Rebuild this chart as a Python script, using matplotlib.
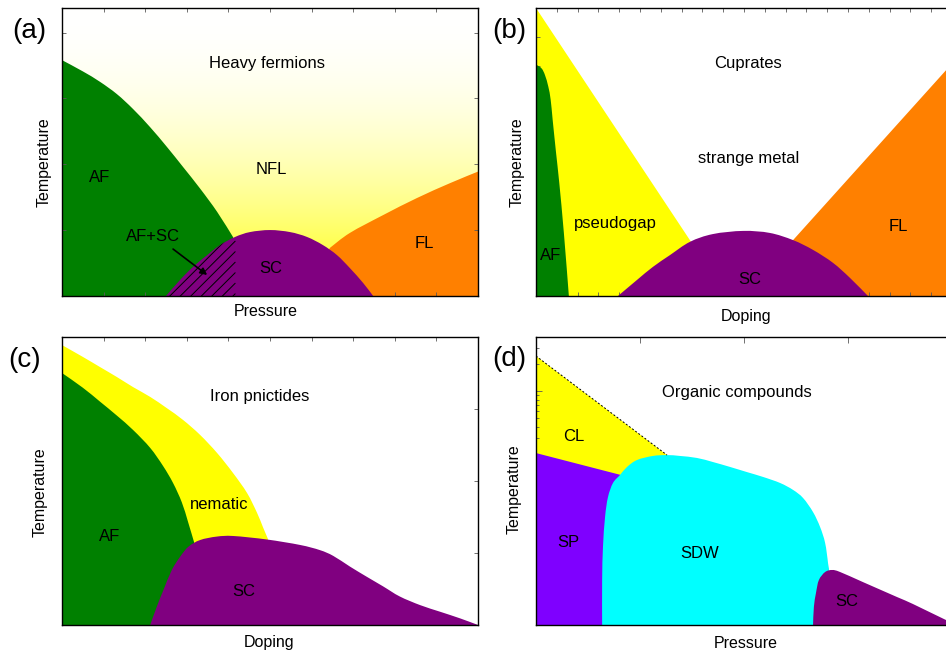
import numpy as np
import matplotlib
matplotlib.use("Agg")
import matplotlib.pyplot as plt
from matplotlib.path import Path
from matplotlib.patches import PathPatch
from matplotlib.ticker import MultipleLocator, FixedLocator, LogLocator, NullFormatter

plt.rcParams["font.family"] = ["Liberation Sans", "DejaVu Sans"]

W, H = 946, 652
FS = 12

GREEN = "#008000"
YELLOW = "#ffff00"
PURPLE = "#800080"
ORANGE = "#ff8000"
VIOLET = "#7f00ff"
CYAN = "#00ffff"

# ── (a) heavy fermions: phase boundaries in scaled units ─────────────────────
HF_AF_X = [0, 0.05, 0.091, 0.132, 0.171, 0.212, 0.252, 0.291, 0.332, 0.373, 0.411]
HF_AF_Y = [0.819, 0.78, 0.744, 0.701, 0.649, 0.586, 0.518, 0.448, 0.373, 0.292, 0.205]
HF_SC_X = [0.25, 0.284, 0.315, 0.349, 0.38, 0.416, 0.452, 0.5, 0.548, 0.589, 0.627, 0.661, 0.692, 0.724, 0.748]
HF_SC_Y = [0.0, 0.056, 0.101, 0.142, 0.177, 0.205, 0.222, 0.229, 0.222, 0.205, 0.177, 0.142, 0.097, 0.045, 0.0]
HF_FL_X = [1.0, 0.933, 0.853, 0.772, 0.692, 0.644]
HF_FL_Y = [0.432, 0.392, 0.34, 0.281, 0.219, 0.167]
HF_MIXED_EDGE = 0.416   # AF+SC coexistence ends here

# ── (b) cuprates ─────────────────────────────────────────────────────────────
CU_AF_X = [0.0, 0.0016, 0.0136, 0.0216, 0.0296, 0.0353, 0.0401, 0.048, 0.056, 0.067, 0.079]
CU_AF_Y = [0.80, 0.802, 0.79, 0.767, 0.727, 0.681, 0.611, 0.50, 0.392, 0.219, 0.0]
CU_PG_X = [0.0, 0.459]
CU_PG_Y = [1.0, 0.0]
CU_SC_X = [0.197, 0.243, 0.281, 0.322, 0.37, 0.425, 0.498, 0.562, 0.618, 0.666, 0.714, 0.755, 0.798]
CU_SC_Y = [0.0, 0.056, 0.101, 0.142, 0.188, 0.215, 0.226, 0.219, 0.194, 0.16, 0.115, 0.0625, 0.0]
CU_FL_X = [0.497, 1.0]
CU_FL_Y = [0.0, 0.807]

# ── (c) iron pnictides ───────────────────────────────────────────────────────
FE_NEM_X = [0, 0.05, 0.091, 0.132, 0.171, 0.212, 0.252, 0.291, 0.332, 0.373, 0.411,
            0.445, 0.469, 0.483, 0.495]
FE_NEM_Y = [0.972, 0.931, 0.896, 0.861, 0.826, 0.792, 0.753, 0.712, 0.66, 0.597, 0.528,
            0.458, 0.389, 0.34, 0.299]
FE_AF_X = [0, 0.05, 0.091, 0.132, 0.171, 0.212, 0.243, 0.267, 0.288, 0.303, 0.318]
FE_AF_Y = [0.875, 0.824, 0.776, 0.727, 0.677, 0.615, 0.552, 0.493, 0.426, 0.358, 0.285]
FE_SC_X = [0.212, 0.228, 0.244, 0.264, 0.284, 0.304, 0.332, 0.372, 0.412, 0.492, 0.572, 0.62,
           0.652, 0.692, 0.732, 0.772, 0.812, 0.861, 0.909, 0.957, 1.0]
FE_SC_Y = [0.0, 0.064, 0.122, 0.191, 0.237, 0.272, 0.295, 0.307, 0.309, 0.297, 0.278, 0.26,
           0.24, 0.203, 0.168, 0.134, 0.099, 0.069, 0.046, 0.023, 0.0]

# ── (d) organic compounds ────────────────────────────────────────────────────
OR_CL_X = [0.0, 0.315]
OR_CL_Y = [0.934, 0.59]
OR_SP_X = [0.0, 0.26]
OR_SP_Y = [0.597, 0.50]
OR_SDW_X = [0.159, 0.159, 0.161, 0.166, 0.173, 0.185, 0.202, 0.219, 0.243, 0.281, 0.315, 0.346,
            0.387, 0.425, 0.466, 0.507, 0.546, 0.587, 0.618, 0.642, 0.666, 0.683, 0.695, 0.702,
            0.704, 0.697]
OR_SDW_Y = [0.0, 0.156, 0.271, 0.375, 0.444, 0.493, 0.521, 0.549, 0.573, 0.587, 0.59, 0.587,
            0.58, 0.566, 0.549, 0.531, 0.514, 0.493, 0.469, 0.441, 0.392, 0.34, 0.285, 0.215,
            0.174, 0.0]
OR_SC_X = [0.666, 0.668, 0.673, 0.68, 0.695, 0.712, 0.731, 0.786, 0.868, 0.906, 0.986, 1.0]
OR_SC_Y = [0.0, 0.063, 0.111, 0.156, 0.184, 0.191, 0.184, 0.149, 0.097, 0.073, 0.017, 0.01]


def px(x, y):
    return x / W, 1 - y / H


def make_axes(fig, left, bottom):
    l, b = px(left, bottom)
    return fig.add_axes([l, b, 416 / W, 288 / H])


def boundary_path(xs, ys, close_to=()):
    # smooth cubic curve through the boundary points, then straight back along the axes
    pts = np.column_stack([xs, ys]).astype(float)
    n = len(pts)
    verts, codes = [pts[0]], [Path.MOVETO]
    for i in range(n - 1):
        p0, p1 = pts[max(i - 1, 0)], pts[i]
        p2, p3 = pts[i + 1], pts[min(i + 2, n - 1)]
        verts += [p1 + (p2 - p0) / 6, p2 - (p3 - p1) / 6, p2]
        codes += [Path.CURVE4] * 3
    for p in close_to:
        verts.append(p)
        codes.append(Path.LINETO)
    verts.append(pts[0])
    codes.append(Path.CLOSEPOLY)
    return Path(verts, codes)


def region(ax, xs, ys, color, close_to=(), **kw):
    p = PathPatch(boundary_path(xs, ys, close_to), facecolor=color, edgecolor="none", **kw)
    ax.add_patch(p)
    return p


def style(ax):
    ax.set_xlim(0, 1)
    ax.set_ylim(0, 1)
    ax.tick_params(which="both", direction="in", top=True, right=True,
                   labelbottom=False, labelleft=False, color="0.35", width=0.6, length=3)
    ax.tick_params(which="minor", length=2)
    for sp in ax.spines.values():
        sp.set_linewidth(1.0)
        sp.set_zorder(10)


def label(ax, x, y, s, **kw):
    ax.text(x, y, s, ha="center", va="center", fontsize=FS, zorder=20, **kw)


# ── Panel (a) ────────────────────────────────────────────────────────────────
def panel_heavy_fermions(fig):
    ax = make_axes(fig, 62, 296)
    yy = np.linspace(0, 1, 300)
    img = np.ones((300, 1, 3))
    img[:, 0, 2] = 1 - (1 - yy) ** 2
    ax.imshow(img, extent=[0, 1, 0, 1], origin="lower", aspect="auto",
              interpolation="bilinear", zorder=0)
    region(ax, HF_AF_X, HF_AF_Y, GREEN, close_to=[(0.46, 0), (0, 0)], zorder=1)
    region(ax, HF_FL_X, HF_FL_Y, ORANGE, close_to=[(0.58, 0), (1.0, 0)], zorder=1)
    dome = region(ax, HF_SC_X, HF_SC_Y, PURPLE, zorder=2)

    # diagonal hatching for AF+SC coexistence
    slope = 416 / 288
    for x0 in np.arange(HF_MIXED_EDGE - 0.005, 0.15, -0.0253):
        xs = np.array([x0, HF_MIXED_EDGE])
        ln, = ax.plot(xs, slope * (xs - x0), color="k", lw=0.7, zorder=3)
        ln.set_clip_path(dome)

    ax.annotate("", xy=(0.349, 0.073), xytext=(0.267, 0.163),
                arrowprops=dict(arrowstyle="-|>", color="k", lw=1.2,
                                mutation_scale=10, shrinkA=0, shrinkB=0), zorder=20)
    label(ax, 0.493, 0.809, "Heavy fermions")
    label(ax, 0.091, 0.41, "AF")
    label(ax, 0.502, 0.4375, "NFL")
    label(ax, 0.219, 0.208, "AF+SC")
    label(ax, 0.502, 0.097, "SC")
    label(ax, 0.870, 0.184, "FL")
    style(ax)
    ax.xaxis.set_major_locator(MultipleLocator(0.1))
    ax.yaxis.set_major_locator(MultipleLocator(0.2286))


# ── Panel (b) ────────────────────────────────────────────────────────────────
def panel_cuprates(fig):
    ax = make_axes(fig, 536, 296)
    region(ax, CU_PG_X, CU_PG_Y, YELLOW, close_to=[(0, 0)], zorder=1)
    region(ax, CU_AF_X, CU_AF_Y, GREEN, close_to=[(0, 0)], zorder=2)
    region(ax, CU_FL_X, CU_FL_Y, ORANGE, close_to=[(1.0, 0)], zorder=1)
    region(ax, CU_SC_X, CU_SC_Y, PURPLE, zorder=3)
    label(ax, 0.51, 0.806, "Cuprates")
    label(ax, 0.51, 0.479, "strange metal")
    label(ax, 0.19, 0.253, "pseudogap")
    label(ax, 0.036, 0.142, "AF")
    label(ax, 0.514, 0.059, "SC")
    label(ax, 0.87, 0.24, "FL")
    style(ax)
    ax.xaxis.set_major_locator(MultipleLocator(0.05))
    ax.yaxis.set_major_locator(MultipleLocator(0.1))


# ── Panel (c) ────────────────────────────────────────────────────────────────
def panel_pnictides(fig):
    ax = make_axes(fig, 62, 625)
    region(ax, FE_NEM_X, FE_NEM_Y, YELLOW, close_to=[(0.5, 0), (0, 0)], zorder=1)
    region(ax, FE_AF_X, FE_AF_Y, GREEN, close_to=[(0.34, 0), (0, 0)], zorder=2)
    region(ax, FE_SC_X, FE_SC_Y, PURPLE, zorder=3)
    label(ax, 0.476, 0.792, "Iron pnictides")
    label(ax, 0.378, 0.42, "nematic")
    label(ax, 0.115, 0.309, "AF")
    label(ax, 0.436, 0.115, "SC")
    style(ax)
    ax.xaxis.set_major_locator(MultipleLocator(0.1))
    ax.yaxis.set_major_locator(MultipleLocator(0.25))


# ── Panel (d) ────────────────────────────────────────────────────────────────
def panel_organics(fig):
    ax = make_axes(fig, 536, 625)
    ax.set_yscale("log")
    tr = ax.transAxes
    region(ax, OR_CL_X, OR_CL_Y, YELLOW, close_to=[(0.315, 0.45), (0, 0.45)],
           zorder=1, transform=tr)
    region(ax, OR_SP_X, OR_SP_Y, VIOLET, close_to=[(0.26, 0), (0, 0)], zorder=2, transform=tr)
    region(ax, OR_SDW_X, OR_SDW_Y, CYAN, zorder=3, transform=tr)
    region(ax, OR_SC_X, OR_SC_Y, PURPLE, close_to=[(1.0, 0)], zorder=4, transform=tr)
    ax.plot(OR_CL_X, OR_CL_Y, color="k", lw=0.7, ls=(0, (2, 2)), transform=tr, zorder=5)
    for x, y, s in [(0.484, 0.806, "Organic compounds"), (0.091, 0.656, "CL"),
                    (0.077, 0.288, "SP"), (0.394, 0.25, "SDW"), (0.748, 0.08, "SC")]:
        ax.text(x, y, s, ha="center", va="center", fontsize=FS, transform=tr, zorder=20)
    ax.set_xlim(0, 1)
    ax.set_ylim(10 ** -0.6, 10 ** 2.6)
    ax.xaxis.set_major_locator(FixedLocator([0.25, 0.5, 0.75]))
    ax.yaxis.set_major_locator(LogLocator(base=10))
    ax.yaxis.set_minor_locator(LogLocator(base=10, subs=np.arange(2, 10)))
    ax.yaxis.set_minor_formatter(NullFormatter())
    ax.tick_params(which="both", direction="in", top=True, right=True,
                   labelbottom=False, labelleft=False, color="0.35", width=0.6, length=4)
    ax.tick_params(which="minor", length=2.5, right=False)
    for sp in ax.spines.values():
        sp.set_linewidth(1.0)
        sp.set_zorder(10)


if __name__ == "__main__":
    fig = plt.figure(figsize=(W / 100, H / 100), dpi=100)
    panel_heavy_fermions(fig)
    panel_cuprates(fig)
    panel_pnictides(fig)
    panel_organics(fig)

    for (x, y), s in [((29, 31), "(a)"), ((509, 31), "(b)"),
                      ((25, 360), "(c)"), ((509, 359), "(d)")]:
        fig.text(*px(x, y), s, ha="center", va="center", fontsize=20)
    for (x, y) in [(44, 162), (517, 162), (40, 492), (514, 489)]:
        fig.text(*px(x, y), "Temperature", rotation=90, ha="center", va="center", fontsize=11.5)
    for (x, y), s in [((266, 311), "Pressure"), ((746, 316), "Doping"),
                      ((269, 643), "Doping"), ((746, 643), "Pressure")]:
        fig.text(*px(x, y), s, ha="center", va="center", fontsize=11.5)

    fig.savefig("out.png", dpi=100)
